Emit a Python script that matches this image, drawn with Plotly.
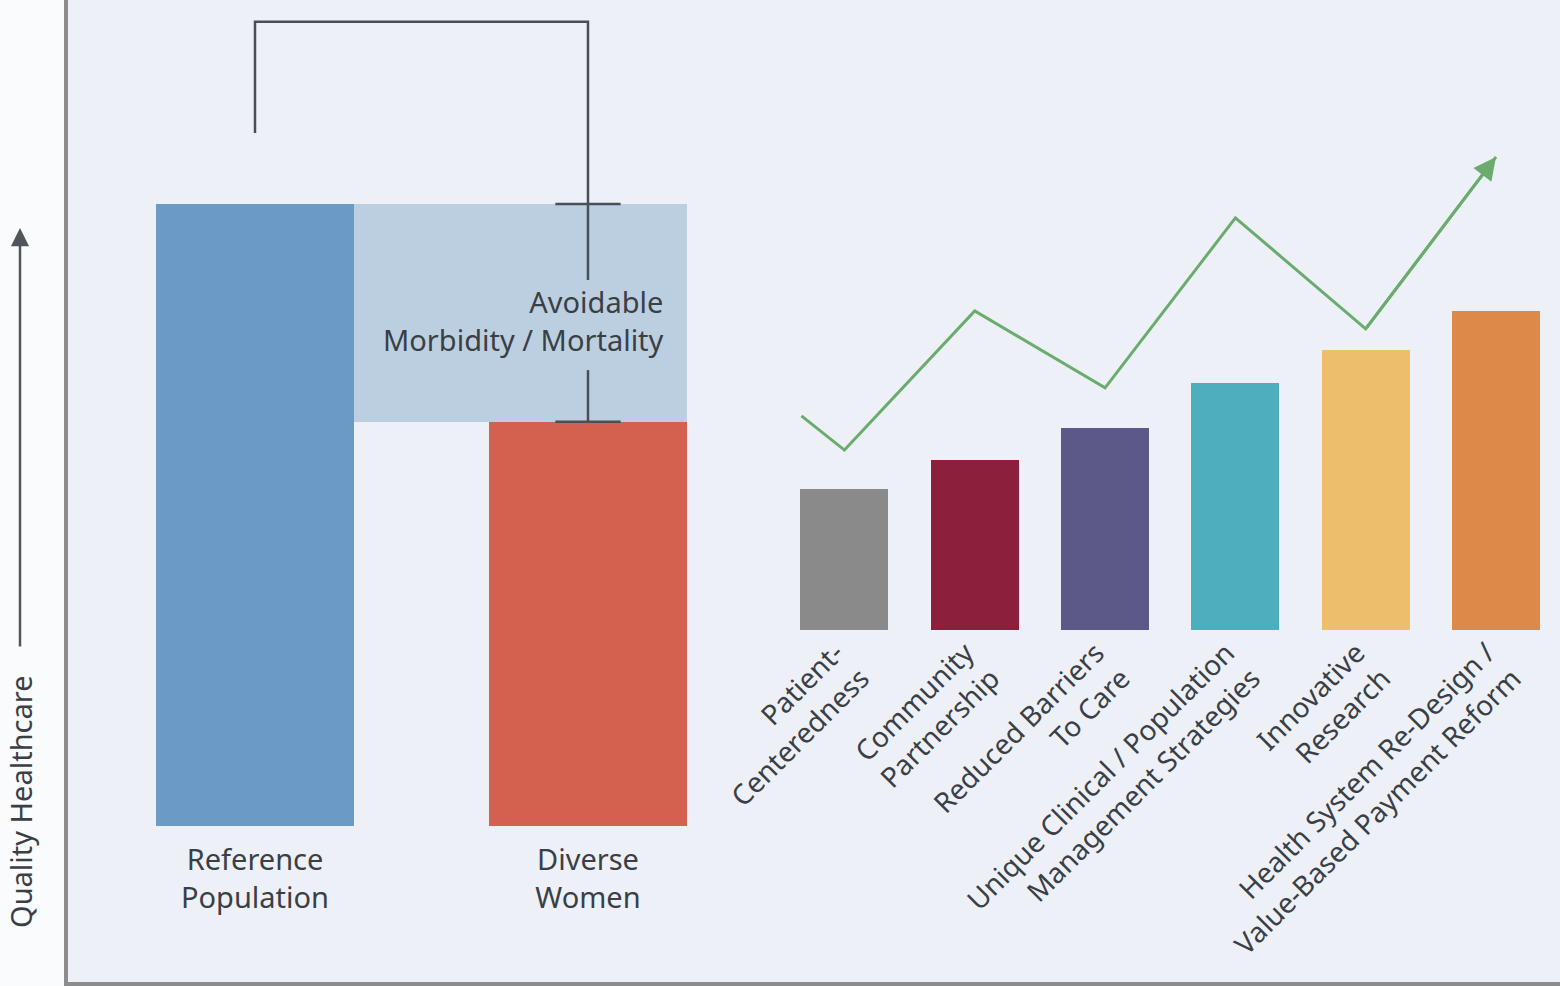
import plotly.graph_objects as go

W, H = 1560, 986

# Left panel: quality of care for two populations (arbitrary index, reference = 100)
pop_labels = ["Reference<br>Population", "Diverse<br>Women"]
pop_values = [100, 65]
pop_colors = ["#6b9ac7", "#d4604f"]
gap_color = "#bccfe0"

# Right panel: strategies that close the gap (arbitrary index)
strategy_labels = [
    "Patient-<br>Centeredness",
    "Community<br>Partnership",
    "Reduced Barriers<br>To Care",
    "Unique Clinical / Population<br>Management Strategies",
    "Innovative<br>Research",
    "Health System Re-Design /<br>Value-Based Payment Reform",
]
strategy_values = [44.2, 53.3, 63.3, 77.4, 87.8, 100]
strategy_colors = ["#8a8a8a", "#8c1f3a", "#5c5888", "#4dafbe", "#edbf6b", "#dc894a"]

# Upward zig-zag trend drawn over the strategy bars
trend_x = [-0.33, 0, 1, 2, 3, 4, 5]
trend_y = [67.1, 56.4, 100, 75.9, 129.2, 94.4, 148.3]
trend_color = "#6aab6e"

# Bracket geometry (in left-panel value units)
bracket_top = 129.3
bracket_left_end = 111.4
text_gap = (73.3, 87.8)
cap_half = 0.098

TEXT = "#3a3f46"
FONT = "Noto Sans"
bar_w_left = 0.592
bar_w_right = 0.675

ref_val, div_val = pop_values

fig = go.Figure()

# population bars
fig.add_trace(go.Bar(
    x=[0, 1], y=pop_values, width=bar_w_left,
    marker=dict(color=pop_colors, line=dict(width=0)),
    xaxis="x", yaxis="y", showlegend=False, hoverinfo="skip",
))
# avoidable gap box spanning from the reference bar edge to the diverse bar edge
fig.add_trace(go.Bar(
    x=[0.5 + bar_w_left / 2], y=[ref_val - div_val], base=[div_val], width=1.0,
    marker=dict(color=gap_color, line=dict(width=0)),
    xaxis="x", yaxis="y", showlegend=False, hoverinfo="skip",
))

# bracket lines
bracket_style = dict(color="#4a4f57", width=2.5)
fig.add_trace(go.Scatter(
    x=[0, 0, 1, 1], y=[bracket_left_end, bracket_top, bracket_top, text_gap[1]],
    mode="lines", line=bracket_style, xaxis="x", yaxis="y",
    showlegend=False, hoverinfo="skip",
))
fig.add_trace(go.Scatter(
    x=[1, 1], y=[text_gap[0], div_val],
    mode="lines", line=bracket_style, xaxis="x", yaxis="y",
    showlegend=False, hoverinfo="skip",
))
for yv in (ref_val, div_val):
    fig.add_trace(go.Scatter(
        x=[1 - cap_half, 1 + cap_half], y=[yv, yv],
        mode="lines", line=bracket_style, xaxis="x", yaxis="y",
        showlegend=False, hoverinfo="skip",
    ))

# strategy bars
fig.add_trace(go.Bar(
    x=list(range(len(strategy_values))), y=strategy_values, width=bar_w_right,
    marker=dict(color=strategy_colors, line=dict(width=0)),
    xaxis="x2", yaxis="y2", showlegend=False, hoverinfo="skip",
))
# trend line
fig.add_trace(go.Scatter(
    x=trend_x, y=trend_y, mode="lines",
    line=dict(color=trend_color, width=3),
    xaxis="x2", yaxis="y2", showlegend=False, hoverinfo="skip",
))

annotations = [
    dict(
        text="Avoidable<br>Morbidity / Mortality",
        x=1.233, y=81.2, xref="x", yref="y",
        xanchor="right", yanchor="middle", align="right", showarrow=False,
        font=dict(family=FONT, size=29, color=TEXT),
    ),
    dict(
        text="", x=trend_x[-1], y=trend_y[-1], xref="x2", yref="y2",
        ax=trend_x[-2], ay=trend_y[-2], axref="x2", ayref="y2",
        showarrow=True, arrowhead=2, arrowsize=1.5, arrowwidth=3,
        arrowcolor=trend_color,
    ),
    dict(
        text="Quality Healthcare", x=20 / W, y=(H - 802) / H,
        xref="paper", yref="paper", textangle=-90, showarrow=False,
        xanchor="center", yanchor="middle",
        font=dict(family=FONT, size=29, color=TEXT),
    ),
    dict(
        text="", x=20 / W, y=(H - 228) / H, xref="paper", yref="paper",
        ax=0, ay=420, showarrow=True, arrowhead=2, arrowsize=1.45,
        arrowwidth=2.5, arrowcolor="#50555c",
    ),
]

shapes = [
    # plotting area background
    dict(type="rect", xref="paper", yref="paper", x0=66 / W, x1=1, y0=3 / H, y1=1,
         fillcolor="#edf0f7", line=dict(width=0), layer="below"),
    # frame lines
    dict(type="line", xref="paper", yref="paper", x0=66 / W, x1=66 / W, y0=1, y1=2 / H,
         line=dict(color="#8c8c8c", width=4)),
    dict(type="line", xref="paper", yref="paper", x0=64 / W, x1=1, y0=2 / H, y1=2 / H,
         line=dict(color="#8c8c8c", width=4)),
]

fig.update_layout(
    width=W, height=H,
    margin=dict(l=0, r=0, t=0, b=0, pad=0, autoexpand=False),
    paper_bgcolor="#fafbfc",
    plot_bgcolor="rgba(0,0,0,0)",
    bargap=0,
    barmode="overlay",
    font=dict(family=FONT, color=TEXT),
    annotations=annotations,
    shapes=shapes,
    xaxis=dict(
        domain=[66 / W, 740 / W], range=[-0.5676, 1.4565],
        tickvals=[0, 1], ticktext=pop_labels, tickangle=0,
        tickfont=dict(family=FONT, size=29, color=TEXT),
        showgrid=False, zeroline=False, showline=False, ticks="",
        ticklabelstandoff=14, fixedrange=True,
    ),
    yaxis=dict(
        domain=[(H - 826) / H, 1], range=[0, 132.8],
        showgrid=False, zeroline=False, showline=False, showticklabels=False,
        fixedrange=True,
    ),
    xaxis2=dict(
        domain=[720 / W, 1], range=[-0.955, 5.491], anchor="y2",
        tickvals=list(range(len(strategy_labels))), ticktext=strategy_labels,
        tickangle=-45,
        tickfont=dict(family=FONT, size=28, color=TEXT),
        showgrid=False, zeroline=False, showline=False, ticks="",
        ticklabelshift=-9, fixedrange=True,
    ),
    yaxis2=dict(
        domain=[(H - 630) / H, 1], range=[0, 197.49], anchor="x2",
        showgrid=False, zeroline=False, showline=False, showticklabels=False,
        fixedrange=True,
    ),
)

fig.write_html("out.html", config={"displayModeBar": False})
